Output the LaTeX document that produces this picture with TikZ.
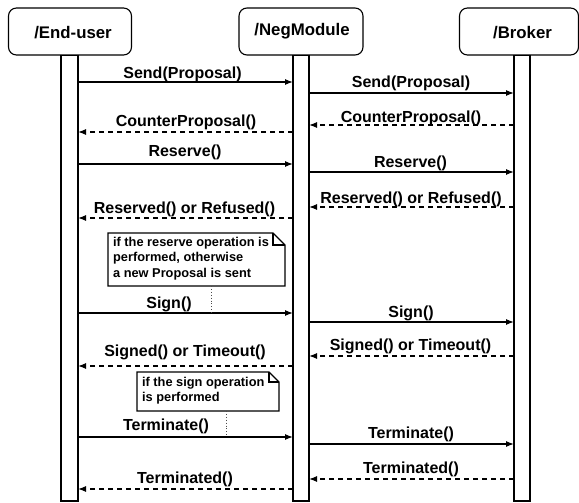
\documentclass[tikz,border=0pt]{standalone}
\usepackage{fontspec}
\setmainfont{Liberation Sans}
\usetikzlibrary{arrows.meta}
\begin{document}
\begin{tikzpicture}[x=1pt,y=-1pt,
  line width=1.2pt,
  actor/.style={draw, rounded corners=8pt, fill=white, line width=1.1pt},
  actortext/.style={inner sep=0pt, font=\fontsize{16.8}{19}\selectfont\bfseries},
  bar/.style={draw, fill=white, line width=1.5pt, inner sep=0pt},
  msg/.style={-{Latex[length=8pt,width=6pt]}},
  ret/.style={msg, dash pattern=on 5pt off 4pt},
  lbl/.style={anchor=base, inner sep=0pt, font=\fontsize{16}{19}\selectfont\bfseries},
  notebox/.style={draw, fill=white, line width=1.2pt, line join=miter},
  notetext/.style={anchor=base west, inner sep=0pt, font=\fontsize{12.8}{15.5}\selectfont\bfseries},
  link/.style={dotted, line width=0.9pt, black!70}
]
\useasboundingbox (0,0) rectangle (579,503);

% activation bars
\node[bar, minimum width=17pt, minimum height=445pt, anchor=north] (eub) at (69.5,55) {};
\node[bar, minimum width=16pt, minimum height=445pt, anchor=north] (nmb) at (301,55) {};
\node[bar, minimum width=16pt, minimum height=445pt, anchor=north] (brb) at (522,55) {};

% lifeline heads
\node[actor, minimum width=123pt, minimum height=47pt] (eu) at (70,31.5) {};
\node[actor, minimum width=124pt, minimum height=47pt] (nm) at (301,31.5) {};
\node[actor, minimum width=119pt, minimum height=47pt] (br) at (519,31.5) {};
\node[actortext] (eut) at (73,33) {/End-user};
\node[actortext] (nmt) at (302,31) {/NegModule};
\node[actortext] (brt) at (522.5,33) {/Broker};

% left solid messages: End-user -> NegModule
\foreach \i/\y/\lx/\ly/\t in {1/82/182.5/79/Send(Proposal), 3/164/185/157/Reserve(), 5/313/169/308/Sign(), 7/437/166/430/Terminate()}{
  \coordinate (ls\i) at (78,\y);
  \coordinate (le\i) at (293,\y);
  \draw[msg] (ls\i) -- (le\i);
  \node[lbl] (lt\i) at (\lx,\ly) {\t};
}
% left dashed returns: NegModule -> End-user
\foreach \i/\y/\lx/\ly/\t in {2/132/186/127/CounterProposal(), 4/218/184.5/213/Reserved() or Refused(), 6/366/185/356/Signed() or Timeout(), 8/489/185/483/Terminated()}{
  \coordinate (ls\i) at (293,\y);
  \coordinate (le\i) at (78,\y);
  \draw[ret] (ls\i) -- (le\i);
  \node[lbl] (lt\i) at (\lx,\ly) {\t};
}
% right solid messages: NegModule -> Broker
\foreach \i/\y/\lx/\ly/\t in {1/93/411/88/Send(Proposal), 3/172/410.5/167/Reserve(), 5/322/411/317/Sign(), 7/444/411/438/Terminate()}{
  \coordinate (rs\i) at (309,\y);
  \coordinate (re\i) at (514,\y);
  \draw[msg] (rs\i) -- (re\i);
  \node[lbl] (rt\i) at (\lx,\ly) {\t};
}
% right dashed returns: Broker -> NegModule
\foreach \i/\y/\lx/\ly/\t in {2/125/411/122/CounterProposal(), 4/207/411/203/Reserved() or Refused(), 6/356/410.5/350/Signed() or Timeout(), 8/479/411/473/Terminated()}{
  \coordinate (rs\i) at (514,\y);
  \coordinate (re\i) at (309,\y);
  \draw[ret] (rs\i) -- (re\i);
  \node[lbl] (rt\i) at (\lx,\ly) {\t};
}

% note 1
\draw[notebox] (108,233) -- (273,233) -- (285,245) -- (285,286) -- (108,286) -- cycle;
\draw[notebox, fill=none] (273,233) -- (273,245) -- (285,245);
\node[notetext] (n1a) at (112.5,246) {if the reserve operation is};
\node[notetext] (n1b) at (112.5,261.5) {performed, otherwise};
\node[notetext] (n1c) at (112.5,277) {a new Proposal is sent};
\coordinate (n1) at (211,286);
\coordinate (s5) at (211,313);
\draw[link] (n1) -- (s5);

% note 2
\draw[notebox] (137,372) -- (269,372) -- (279,382) -- (279,411) -- (137,411) -- cycle;
\draw[notebox, fill=none] (269,372) -- (269,382) -- (279,382);
\node[notetext] (n2a) at (141.5,386) {if the sign operation};
\node[notetext] (n2b) at (141.5,401) {is performed};
\coordinate (n2) at (226,411);
\coordinate (s7) at (226,437);
\draw[link] (n2) -- (s7);
\end{tikzpicture}
\end{document}
